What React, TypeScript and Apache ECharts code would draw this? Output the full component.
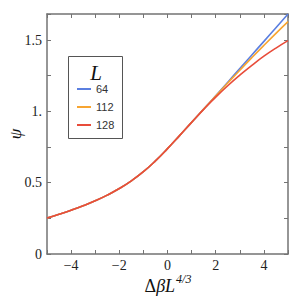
import React, { useEffect, useRef } from "react";
import * as echarts from "echarts";

const xs = [-5, -4.5, -4, -3.5, -3, -2.5, -2, -1.5, -1, -0.5, 0, 0.5, 1, 1.5, 2, 2.5, 3, 3.5, 4, 4.5, 5];
const psiL64 = [0.253, 0.279, 0.307, 0.338, 0.373, 0.413, 0.459, 0.513, 0.577, 0.653, 0.739, 0.83, 0.923, 1.016, 1.11, 1.205, 1.3, 1.396, 1.491, 1.587, 1.683];
const psiL112 = [0.253, 0.279, 0.307, 0.338, 0.373, 0.413, 0.459, 0.513, 0.577, 0.653, 0.739, 0.83, 0.923, 1.016, 1.108, 1.199, 1.289, 1.377, 1.463, 1.547, 1.629];
const psiL128 = [0.253, 0.279, 0.307, 0.338, 0.373, 0.413, 0.459, 0.513, 0.577, 0.653, 0.739, 0.83, 0.923, 1.014, 1.1, 1.18, 1.254, 1.323, 1.387, 1.444, 1.496];
const seriesNames = ["64", "112", "128"];
const colors = ["#5B7FE0", "#F7A531", "#E84C3A"];
const yLabels: Record<string, string> = { "0": "0", "0.5": "0.5", "1": "1.", "1.5": "1.5" };

const FRAME = "#737373";
const SERIF = "Liberation Serif";

export default function App() {
  const ref = useRef<HTMLDivElement>(null);
  useEffect(() => {
    document.body.style.margin = "0";
    const chart = echarts.init(ref.current!, undefined, { renderer: "svg" });
    const pair = (ys: number[]) => xs.map((x, i) => [x, ys[i]]);
    const axisCommon = {
      axisLine: { show: true, onZero: false, lineStyle: { color: FRAME, width: 1.5 } },
      axisTick: { show: true, inside: true, length: 4, lineStyle: { color: FRAME, width: 1 } },
      splitLine: { show: false },
    };
    chart.setOption({
      animation: false,
      textStyle: { fontFamily: SERIF },
      grid: { left: 47, top: 14, width: 241, height: 240, outerBoundsMode: "none", containLabel: false },
      xAxis: [
        {
          type: "value", min: -5, max: 5, interval: 1, position: "bottom",
          ...axisCommon,
          axisLabel: {
            margin: 4, fontFamily: SERIF, fontSize: 14, color: "#222",
            formatter: (v: number) => (Math.abs(v) % 2 === 0 ? (v < 0 ? "\u2212" + Math.abs(v) : String(v)) : ""),
          },
        },
        {
          type: "value", min: -5, max: 5, interval: 1, position: "top",
          ...axisCommon, axisLabel: { show: false },
        },
      ],
      yAxis: [
        {
          type: "value", min: 0, max: 1.683, interval: 0.25, position: "left",
          ...axisCommon,
          axisLabel: {
            margin: 5, fontFamily: SERIF, fontSize: 14, color: "#222",
            formatter: (v: number) => yLabels[String(Math.round(v * 1000) / 1000)] ?? "",
          },
        },
        {
          type: "value", min: 0, max: 1.683, interval: 0.25, position: "right",
          ...axisCommon, axisLabel: { show: false },
        },
      ],
      legend: {
        orient: "vertical", left: 77, top: 82, padding: 0,
        itemWidth: 14, itemHeight: 2, itemGap: 4, icon: "rect",
        data: seriesNames,
        textStyle: { fontFamily: "Liberation Sans", fontSize: 11, color: "#333", lineHeight: 14 },
      },
      series: [psiL64, psiL112, psiL128].map((ys, i) => ({
        name: seriesNames[i], type: "line", data: pair(ys), smooth: 0.5, showSymbol: false,
        lineStyle: { width: 1.6, color: colors[i] }, itemStyle: { color: colors[i] },
      })),
      graphic: [
        { type: "rect", left: 68, top: 56, shape: { width: 54, height: 82 }, style: { fill: "#fff", stroke: "#555", lineWidth: 1 }, z: -1 },
        { type: "text", x: 96, y: 73, style: { text: "L", fontFamily: SERIF, fontStyle: "italic", fontSize: 21, fill: "#111", textAlign: "center", textVerticalAlign: "middle" } },
        { type: "text", x: 15, y: 134, rotation: Math.PI / 2, style: { text: "\u03C8", fontFamily: SERIF, fontStyle: "italic", fontSize: 17, fill: "#111", textAlign: "center", textVerticalAlign: "middle" } },
        {
          type: "text", x: 168, y: 286,
          style: {
            text: "{d|\u0394}{i|\u03B2L}{s|4/3}", textAlign: "center", textVerticalAlign: "middle",
            rich: {
              d: { fontFamily: SERIF, fontSize: 18, fill: "#111" },
              i: { fontFamily: SERIF, fontStyle: "italic", fontSize: 18, fill: "#111" },
              s: { fontFamily: SERIF, fontStyle: "italic", fontSize: 12, fill: "#111", padding: [0, 0, 14, 1] },
            },
          },
        },
      ],
    });
    return () => chart.dispose();
  }, []);
  return <div ref={ref} style={{ width: 291, height: 297 }} />;
}
